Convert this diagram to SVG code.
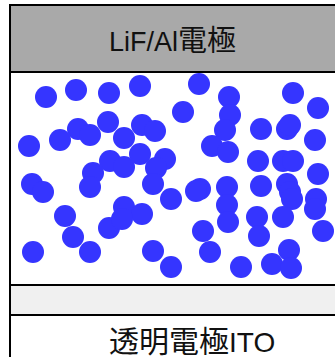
<svg xmlns="http://www.w3.org/2000/svg" width="335" height="357" viewBox="0 0 335 357">
<style>
.frame{stroke:#000;stroke-width:2}
.lbl{font-family:"Liberation Sans","Noto Sans CJK JP",sans-serif;fill:#111}
.p{fill:#3535FF}
</style>
<rect width="335" height="357" fill="#fff"/>
<g id="electrode-top">
<rect class="frame" x="10" y="5" width="340" height="67" fill="#A9A9A9"/>
<text class="lbl" x="109" y="51" font-size="27">LiF/Al<tspan font-size="29">電極</tspan></text>
</g>
<g id="active-layer">
<rect class="frame" x="10" y="72" width="340" height="213" fill="#fff"/>
<g class="p">
<circle cx="46" cy="97" r="11"/><circle cx="76" cy="90" r="11"/><circle cx="109" cy="93" r="11"/><circle cx="140" cy="86" r="11"/>
<circle cx="199" cy="84" r="11"/><circle cx="229" cy="97" r="11"/><circle cx="293" cy="93" r="11"/><circle cx="318" cy="108" r="11"/>
<circle cx="183" cy="112" r="11"/><circle cx="230" cy="115" r="11"/><circle cx="108" cy="122" r="11"/><circle cx="78" cy="129" r="11"/>
<circle cx="90" cy="135" r="11"/><circle cx="60" cy="140" r="11"/><circle cx="29" cy="146" r="11"/><circle cx="124" cy="138" r="11"/>
<circle cx="142" cy="125" r="11"/><circle cx="155" cy="131" r="11"/><circle cx="140" cy="154" r="11"/><circle cx="110" cy="161" r="11"/>
<circle cx="124" cy="167" r="11"/><circle cx="93" cy="173" r="11"/><circle cx="165" cy="159" r="11"/><circle cx="156" cy="168" r="11"/>
<circle cx="225" cy="130" r="11"/><circle cx="261" cy="129" r="11"/><circle cx="287" cy="129" r="11"/><circle cx="290" cy="125" r="11"/>
<circle cx="315" cy="140" r="11"/><circle cx="212" cy="146" r="11"/><circle cx="228" cy="152" r="11"/><circle cx="258" cy="161" r="11"/>
<circle cx="283" cy="161" r="11"/><circle cx="293" cy="161" r="11"/><circle cx="318" cy="174" r="11"/><circle cx="32" cy="184" r="11"/>
<circle cx="43" cy="192" r="11"/><circle cx="90" cy="187" r="11"/><circle cx="65" cy="216" r="11"/><circle cx="73" cy="237" r="11"/>
<circle cx="90" cy="252" r="11"/><circle cx="33" cy="252" r="11"/><circle cx="109" cy="228" r="11"/><circle cx="124" cy="207" r="11"/>
<circle cx="142" cy="214" r="11"/><circle cx="122" cy="219" r="11"/><circle cx="153" cy="184" r="11"/><circle cx="171" cy="199" r="11"/>
<circle cx="153" cy="251" r="11"/><circle cx="171" cy="267" r="11"/><circle cx="200" cy="189" r="11"/><circle cx="196" cy="191" r="11"/>
<circle cx="203" cy="231" r="11"/><circle cx="210" cy="252" r="11"/><circle cx="227" cy="187" r="11"/><circle cx="227" cy="205" r="11"/>
<circle cx="228" cy="222" r="11"/><circle cx="261" cy="186" r="11"/><circle cx="287" cy="184" r="11"/><circle cx="290" cy="192" r="11"/>
<circle cx="292" cy="199" r="11"/><circle cx="316" cy="199" r="11"/><circle cx="315" cy="209" r="11"/><circle cx="257" cy="217" r="11"/>
<circle cx="259" cy="236" r="11"/><circle cx="283" cy="217" r="11"/><circle cx="323" cy="231" r="11"/><circle cx="289" cy="250" r="11"/>
<circle cx="272" cy="264" r="11"/><circle cx="291" cy="268" r="11"/><circle cx="241" cy="267" r="11"/>
</g>
</g>
<g id="buffer-layer">
<rect class="frame" x="10" y="285" width="340" height="30" fill="#F0F0F0"/>
</g>
<g id="electrode-bottom">
<rect class="frame" x="10" y="315" width="340" height="60" fill="#fff"/>
<text class="lbl" x="109" y="352" font-size="28"><tspan font-size="30">透明電極</tspan>ITO</text>
</g>
</svg>
